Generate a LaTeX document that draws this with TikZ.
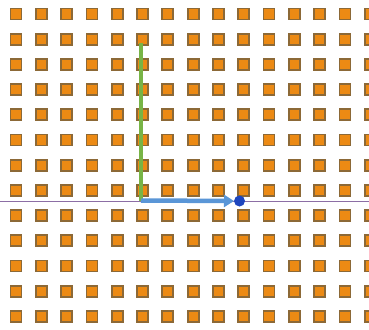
\documentclass[tikz,border=0pt]{standalone}
\usetikzlibrary{arrows.meta}
\definecolor{sqfill}{RGB}{236,138,20}
\definecolor{sqborder}{RGB}{140,105,55}
\definecolor{axisline}{RGB}{140,110,165}
\definecolor{greenline}{RGB}{120,180,70}
\definecolor{bluearrow}{RGB}{90,150,215}
\definecolor{bluedot}{RGB}{30,70,190}
\tikzset{
  cell/.style={draw=sqborder, fill=sqfill, line width=1.8pt, minimum size=11pt, inner sep=0pt, outer sep=0pt},
  axis/.style={draw=axisline, line width=0.9pt},
  vecgreen/.style={draw=greenline, line width=3.5pt},
  vecblue/.style={draw=bluearrow, line width=4.5pt, -{Triangle[length=10pt,width=12pt]}},
  dotnode/.style={circle, fill=bluedot, minimum size=11pt, inner sep=0pt, outer sep=0pt}
}
\begin{document}
\begin{tikzpicture}[x=1pt,y=-1pt]
\useasboundingbox (0,0) rectangle (369,329);
\fill[white] (0,0) rectangle (369,329);
\foreach \i in {0,...,14}{
  \foreach \j in {0,...,12}{
    \node[cell] (c-\i-\j) at ({16+25.3*\i},{14+25.2*\j}) {};
  }
}
\coordinate (axl) at (0,201);
\coordinate (axr) at (369,201);
\draw[axis] (axl) -- (axr);
\coordinate (gtop) at (141,43);
\coordinate (origin) at (141,200.5);
\node[dotnode] (dot) at (239.5,201) {};
\draw[vecgreen] (gtop) -- (origin);
\draw[vecblue] (origin) -- (dot.west);
\end{tikzpicture}
\end{document}
